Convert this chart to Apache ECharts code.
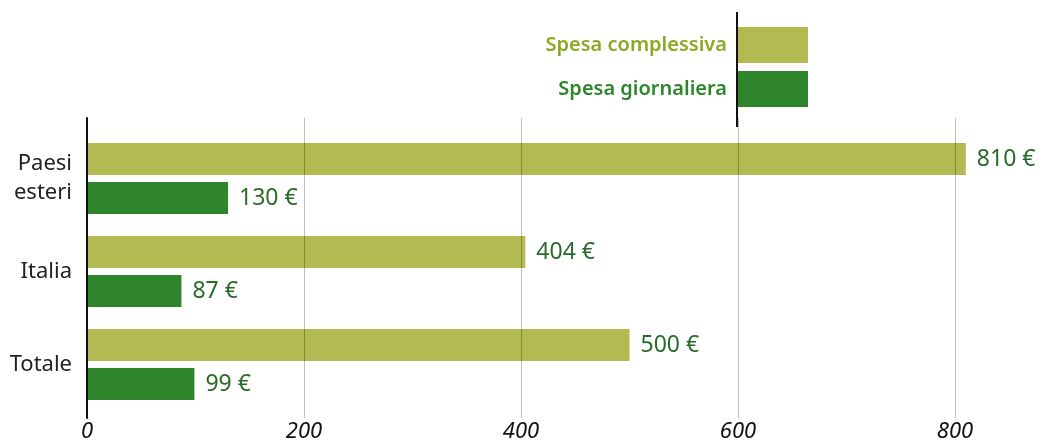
<!DOCTYPE html>
<html><head><meta charset="utf-8">
<script src="https://cdn.jsdelivr.net/npm/echarts@6/dist/echarts.min.js"></script>
<style>html,body{margin:0;padding:0;background:#fff}#c{width:1039px;height:443px}</style>
</head><body><div id="c"></div>
<script>
const categories = ['Paesi\nesteri', 'Italia', 'Totale'];
const seriesNames = ['Spesa complessiva', 'Spesa giornaliera'];
const spesaComplessiva = [810, 404, 500];
const spesaGiornaliera = [130, 87, 99];
const xTicks = [0, 200, 400, 600, 800];

const FONT = '"Noto Sans", "Open Sans", sans-serif';
const C1 = '#b4ba52', C2 = '#2f852c';
const chart = echarts.init(document.getElementById('c'), null, {renderer: 'canvas'});
const labelCfg = {show: true, position: 'right', distance: 11, color: '#2a6a2a', fontSize: 23, fontFamily: FONT,
  formatter: p => p.value + ' \u20ac'};
chart.setOption({
  animation: false,
  textStyle: {fontFamily: FONT},
  legend: {
    orient: 'vertical', right: 231, top: 27, padding: 0, align: 'right',
    itemWidth: 70, itemHeight: 36, itemGap: 8, icon: 'rect',
    textStyle: {fontSize: 20, fontWeight: 600, fontFamily: FONT, padding: [0, 6, 0, 0]},
    selectedMode: false,
    data: [
      {name: seriesNames[0], textStyle: {color: '#8aaa24'}},
      {name: seriesNames[1], textStyle: {color: '#2f852c'}}
    ]
  },
  graphic: [{type: 'line', shape: {x1: 737, y1: 12, x2: 737, y2: 127}, style: {stroke: '#111', lineWidth: 2}, z: 10}],
  grid: [
    {left: 87, right: 84, top: 118, bottom: 23},
    {left: 87, right: 84, top: 132, bottom: 32}
  ],
  xAxis: [
    {gridIndex: 0, type: 'value', min: 0, max: 800, interval: 200, z: 5,
     axisLine: {show: false}, axisTick: {show: false},
     splitLine: {show: true, lineStyle: {color: 'rgba(0,0,0,0.25)', width: 1}},
     axisLabel: {fontSize: 22, fontStyle: 'italic', color: '#111', margin: 3, fontFamily: FONT,
       customValues: xTicks}},
    {gridIndex: 1, type: 'value', min: 0, max: 800, show: false}
  ],
  yAxis: [
    {gridIndex: 0, type: 'value', min: 0, max: 1, z: 6,
     axisLine: {show: true, onZero: false, lineStyle: {color: '#111', width: 2}},
     axisTick: {show: false}, axisLabel: {show: false}, splitLine: {show: false}},
    {gridIndex: 1, type: 'category', inverse: true, data: categories,
     axisLine: {show: false}, axisTick: {show: false}, splitLine: {show: false},
     axisLabel: {fontSize: 22, color: '#222', margin: 15, lineHeight: 29, fontFamily: FONT}}
  ],
  series: [
    {name: seriesNames[0], type: 'bar', xAxisIndex: 1, yAxisIndex: 1, data: spesaComplessiva,
     barWidth: 32, barGap: '22%', clip: false, itemStyle: {color: C1}, label: labelCfg},
    {name: seriesNames[1], type: 'bar', xAxisIndex: 1, yAxisIndex: 1, data: spesaGiornaliera,
     barWidth: 32, barGap: '22%', clip: false, itemStyle: {color: C2}, label: labelCfg}
  ]
});
</script></body></html>
